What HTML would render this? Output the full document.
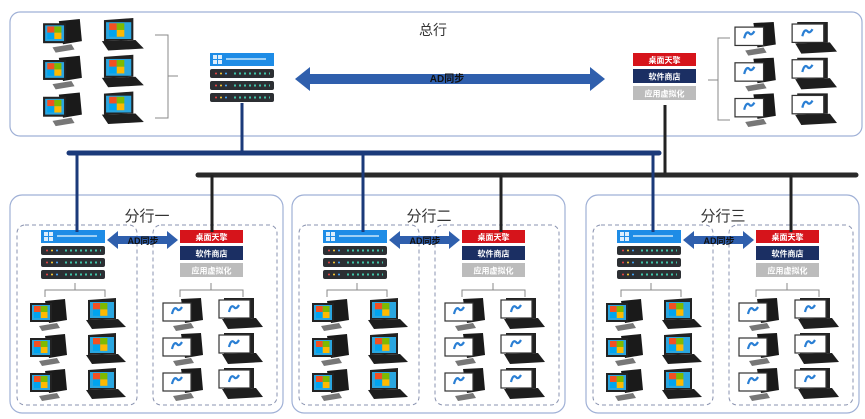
<!DOCTYPE html>
<html><head><meta charset="utf-8"><style>
html,body{margin:0;padding:0;background:#fff}
svg{display:block}
text{font-family:"Liberation Sans","Noto Sans CJK SC",sans-serif}
</style></head><body>
<svg width="865" height="419" viewBox="0 0 865 419" xmlns="http://www.w3.org/2000/svg">
<defs>
<g id="winscr">
  <rect x="0" y="0" width="9" height="8" fill="#f25022"/><rect x="9" y="0" width="9" height="8" fill="#7fba00"/>
  <rect x="0" y="8" width="9" height="8" fill="#00a4ef"/><rect x="9" y="8" width="9" height="8" fill="#ffb900"/>
</g>
<g id="dwin">
  <path d="M16 3 L36 1 L38 22 L20 25 Z" fill="#1a1a1a"/>
  <rect x="1" y="5" width="22" height="19" fill="#222"/>
  <rect x="3" y="7" width="18" height="15" fill="#2aa6e0"/>
  <use href="#winscr" transform="translate(5,8) scale(0.75)"/>
  <path d="M10 28 L28 25 L31 30 L13 33 Z" fill="#777"/>
</g>
<g id="lwin">
  <path d="M6 2 L34 0 L34 21 L6 22 Z" fill="#222"/>
  <rect x="8" y="4" width="24" height="16" fill="#2aa6e0"/>
  <use href="#winscr" transform="translate(11,5) scale(0.8)"/>
  <path d="M4 22 L36 21 L44 29 L10 31 Z" fill="#1e1e1e"/>
</g>
<g id="dcl">
  <path d="M18 1 L38 0 L40 22 L22 25 Z" fill="#1a1a1a"/>
  <rect x="0" y="5" width="28" height="18" fill="#fff" stroke="#333" stroke-width="1.2"/>
  <path d="M9 16 q2 -8 5 -5 q2 3 5 -2" stroke="#2a7fd4" stroke-width="2.2" fill="none"/>
  <path d="M10 28 L28 25 L31 30 L13 33 Z" fill="#777"/>
</g>
<g id="lcl">
  <path d="M6 0 L36 0 L36 20 L6 21 Z" fill="#222"/>
  <rect x="1" y="2" width="31" height="18" fill="#fff" stroke="#333" stroke-width="1.2"/>
  <path d="M11 14 q2 -8 5 -5 q2 3 5 -2" stroke="#2a7fd4" stroke-width="2.2" fill="none"/>
  <path d="M4 21 L38 20 L45 29 L10 31 Z" fill="#1e1e1e"/>
</g>
<g id="bar">
  <rect x="0" y="0" width="64" height="9" rx="2" fill="#2c2f33"/>
  <circle cx="6" cy="4.5" r="1" fill="#e44"/><circle cx="11" cy="4.5" r="1" fill="#fc3"/><circle cx="16" cy="4.5" r="1" fill="#4af"/>
  <path d="M24 4.5 H60" stroke="#3fc4a8" stroke-width="2" stroke-dasharray="2 3"/>
</g>
<g id="server">
  <rect x="0" y="0" width="64" height="13" fill="#1e8ce6"/>
  <rect x="3" y="2" width="9" height="9" fill="#fff" opacity=".85"/>
  <path d="M7.5 2 V11 M3 6.5 H12" stroke="#1e8ce6" stroke-width="1"/>
  <rect x="16" y="5" width="40" height="2" fill="#9fd0f5"/>
  <use href="#bar" y="16"/><use href="#bar" y="28"/><use href="#bar" y="40"/>
</g>
<g id="stack">
  <rect x="0" y="0" width="63" height="13" fill="#d6141b"/>
  <text x="31.5" y="10" font-size="8" font-weight="bold" fill="#fff" text-anchor="middle">桌面天擎</text>
  <rect x="0" y="16" width="63" height="14" fill="#1b2f63"/>
  <text x="31.5" y="26.5" font-size="8" font-weight="bold" fill="#fff" text-anchor="middle">软件商店</text>
  <rect x="0" y="33" width="63" height="14" fill="#bcbcbc"/>
  <text x="31.5" y="43.5" font-size="8" font-weight="bold" fill="#fff" text-anchor="middle">应用虚拟化</text>
</g>
<g id="pcwin">
  <use href="#dwin" x="0" y="0"/><use href="#lwin" x="53" y="0"/>
  <use href="#dwin" x="0" y="35"/><use href="#lwin" x="53" y="35"/>
  <use href="#dwin" x="0" y="70"/><use href="#lwin" x="53" y="70"/>
</g>
<g id="pccl">
  <use href="#dcl" x="0" y="0"/><use href="#lcl" x="55" y="0"/>
  <use href="#dcl" x="0" y="35"/><use href="#lcl" x="55" y="35"/>
  <use href="#dcl" x="0" y="70"/><use href="#lcl" x="55" y="70"/>
</g>
<g id="branch">
  <rect x="10" y="195" width="273" height="218" rx="12" fill="#fff" stroke="#9fb0d6" stroke-width="1.2"/>
  <rect x="17" y="225" width="120" height="180" rx="8" fill="none" stroke="#8a93b0" stroke-dasharray="4 3"/>
  <rect x="153" y="225" width="124" height="180" rx="8" fill="none" stroke="#8a93b0" stroke-dasharray="4 3"/>
  <use href="#server" x="41" y="230"/>
  <use href="#stack" x="180" y="230"/>
  <path d="M107 240 L118 231 L118 236 L167 236 L167 231 L178 240 L167 249 L167 244 L118 244 L118 249 Z" fill="#2f5fad"/>
  <text x="143" y="244" font-size="9" font-weight="bold" fill="#111" text-anchor="middle">AD同步</text>
  <path d="M45 297 V290 H105 V297 M75 290 V283" stroke="#888" fill="none"/>
  <path d="M180 297 V290 H243 V297 M211 290 V283" stroke="#888" fill="none"/>
  <use href="#pcwin" x="29" y="298"/>
  <use href="#pccl" x="163" y="298"/>
</g>
</defs>

<!-- top box -->
<rect x="10" y="12" width="852" height="124" rx="10" fill="#fff" stroke="#9fb0d6" stroke-width="1.2"/>
<text x="433" y="35" font-size="14" fill="#333" text-anchor="middle">总行</text>
<use href="#pcwin" transform="translate(42,18) scale(1.05)"/>
<path d="M155 35 H168 V118 H155 M168 76 H178" stroke="#888" fill="none"/>
<use href="#server" x="210" y="53"/>
<path d="M295 79 L310 67 L310 74 L590 74 L590 67 L605 79 L590 91 L590 84 L310 84 L310 91 Z" fill="#2f5fad"/>
<text x="447" y="82" font-size="10" font-weight="bold" fill="#111" text-anchor="middle">AD同步</text>
<use href="#stack" x="633" y="53"/>
<path d="M730 38 H718 V120 H730 M718 80 H708" stroke="#888" fill="none"/>
<use href="#pccl" transform="translate(735,22) scale(1.02)"/>

<!-- buses -->
<path d="M242 103 V153" stroke="#1b3a7a" stroke-width="3"/>
<path d="M665 105 V175" stroke="#222" stroke-width="3"/>
<path d="M69 153 H659" stroke="#1b3a7a" stroke-width="5" stroke-linecap="round"/>
<path d="M198 175 H856" stroke="#2a2a2a" stroke-width="5" stroke-linecap="round"/>

<use href="#branch"/>
<use href="#branch" x="282"/>
<use href="#branch" x="576"/>
<text x="147" y="221" font-size="15" fill="#333" text-anchor="middle">分行一</text>
<text x="429" y="221" font-size="15" fill="#333" text-anchor="middle">分行二</text>
<text x="723" y="221" font-size="15" fill="#333" text-anchor="middle">分行三</text>

<!-- verticals -->
<path d="M77 153 V232 M363 153 V232 M653 153 V232" stroke="#1b3a7a" stroke-width="3"/>
<path d="M212 175 V232 M501 175 V232 M791 175 V232" stroke="#222" stroke-width="3"/>
</svg>
</body></html>
